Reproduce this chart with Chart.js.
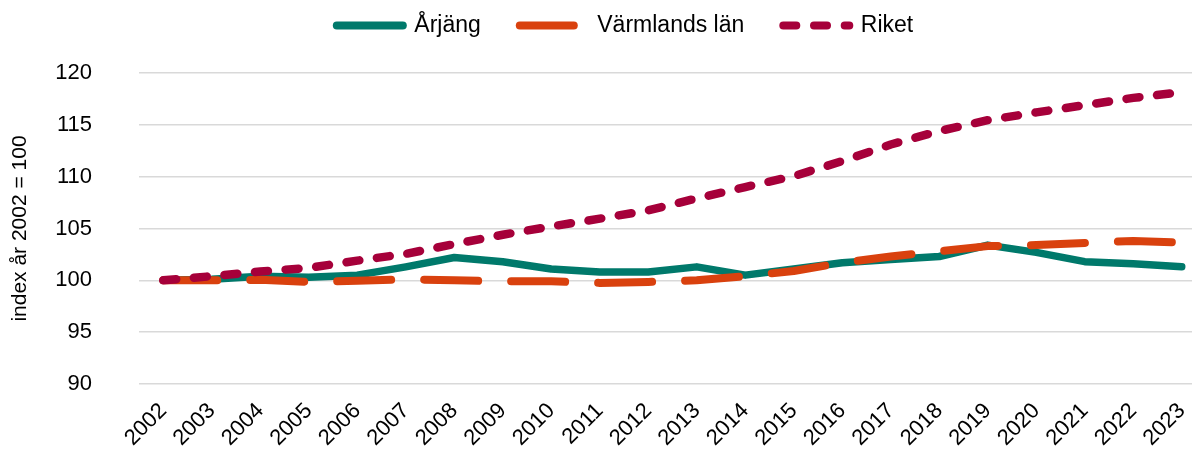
<!DOCTYPE html>
<html>
<head>
<meta charset="utf-8">
<script src="https://cdn.jsdelivr.net/npm/chart.js@4.4.1/dist/chart.umd.min.js"></script>
<style>
  html, body { margin: 0; padding: 0; background: #fff; overflow: hidden; }
  #wrap { position: relative; width: 1248px; height: 453px; }
</style>
</head>
<body>
<div id="wrap"><canvas id="c"></canvas></div>
<script>
const years = ['2002','2003','2004','2005','2006','2007','2008','2009','2010','2011','2012','2013','2014','2015','2016','2017','2018','2019','2020','2021','2022','2023'];
const arjang   = [100, 100.1, 100.4, 100.3, 100.5, 101.3, 102.2, 101.8, 101.1, 100.8, 100.8, 101.3, 100.5, 101.1, 101.7, 102.0, 102.3, 103.4, 102.7, 101.8, 101.6, 101.3];
const varmland = [100, 100.0, 100.05, 99.85, 99.95, 100.1, 100.0, 99.9, 99.9, 99.75, 99.85, 100.0, 100.4, 100.9, 101.7, 102.3, 102.8, 103.3, 103.4, 103.6, 103.8, 103.65];
const riket    = [100, 100.4, 100.85, 101.2, 101.9, 102.55, 103.5, 104.4, 105.2, 105.95, 106.75, 107.9, 109.0, 110.05, 111.5, 113.1, 114.4, 115.45, 116.2, 116.9, 117.6, 118.15];
const seriesNames = ['Årjäng', 'Värmlands län', 'Riket'];
const yTitle = 'index år 2002 = 100';

const FONT = "'Liberation Sans', Arial, sans-serif";
const LEGEND_H = 73;
const LEGEND_DX = 22;
const LEGEND_DY = -25;

const tweak = {
  id: 'tweak',
  beforeUpdate(chart) {
    const lg = chart.legend;
    if (lg && !lg._patched) {
      const orig = lg.fit;
      lg.fit = function () { orig.call(this); this.height = LEGEND_H; };
      lg._patched = true;
    }
  },
  afterLayout(chart) {
    const lg = chart.legend;
    if (!lg) return;
    lg.top += LEGEND_DY; lg.bottom += LEGEND_DY;
    lg.left += LEGEND_DX; lg.right += LEGEND_DX;
  }
};

new Chart(document.getElementById('c'), {
  type: 'line',
  data: {
    labels: years,
    datasets: [
      { label: seriesNames[0], data: arjang, borderColor: '#00796B', backgroundColor: '#00796B',
        borderWidth: 7.5, pointRadius: 0, tension: 0, borderCapStyle: 'round', borderJoinStyle: 'round', order: 2 },
      { label: seriesNames[1], data: varmland, borderColor: '#D9410E', backgroundColor: '#D9410E',
        borderWidth: 8, borderDash: [54, 33], pointRadius: 0, tension: 0, borderCapStyle: 'round', borderJoinStyle: 'round', order: 1 },
      { label: seriesNames[2], data: riket, borderColor: '#A6003A', backgroundColor: '#A6003A',
        borderWidth: 8.5, borderDash: [13, 17.7], pointRadius: 0, tension: 0, borderCapStyle: 'round', borderJoinStyle: 'round', order: 0 }
    ]
  },
  options: {
    responsive: true,
    maintainAspectRatio: false,
    animation: false,
    layout: { padding: { left: 0, right: 42, top: 0, bottom: 0 } },
    plugins: {
      tooltip: { enabled: false },
      legend: {
        position: 'top',
        align: 'center',
        labels: {
          usePointStyle: true,
          pointStyleWidth: 66,
          padding: 39,
          color: '#000',
          font: { family: FONT, size: 23 },
          generateLabels: (chart) => chart.data.datasets.map((ds, i) => ({
            text: ds.label,
            fillStyle: ds.borderColor,
            strokeStyle: ds.borderColor,
            lineWidth: 8,
            lineDash: ds.borderDash || [],
            lineCap: 'round',
            pointStyle: 'line',
            rotation: 180,
            fontColor: '#000',
            hidden: false,
            datasetIndex: i
          }))
        }
      }
    },
    scales: {
      x: {
        type: 'category',
        offset: true,
        grid: { display: false },
        border: { display: false },
        ticks: { minRotation: 45, maxRotation: 45, autoSkip: false, color: '#000', padding: 6,
                 font: { family: FONT, size: 22 } },
        afterFit: (s) => { s.height = 69; }
      },
      y: {
        min: 90, max: 120,
        grid: { color: '#D9D9D9', lineWidth: 1.5, drawTicks: false },
        border: { display: false },
        ticks: { stepSize: 5, padding: 47, color: '#000', font: { family: FONT, size: 22 } },
        title: { display: true, text: yTitle, color: '#000', font: { family: FONT, size: 21 }, padding: { top: 8, bottom: 0 } },
        afterFit: (s) => { s.width = 139; }
      }
    }
  },
  plugins: [tweak]
});
</script>
</body>
</html>
